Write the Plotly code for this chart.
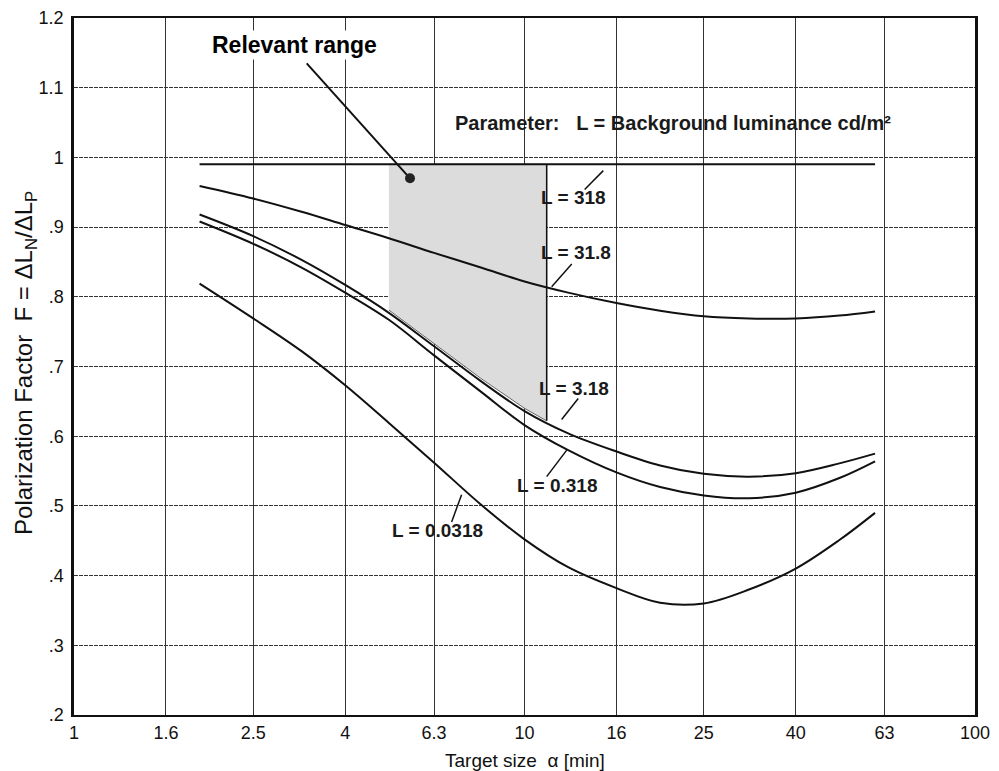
import numpy as np
import plotly.graph_objects as go

# ---------------- data ----------------
alpha = [1.9, 2.5, 3.2, 4, 5, 6.3, 8, 10, 12.5, 16, 20, 25, 31.5, 40, 50, 60]

F_L318 = [0.99] * len(alpha)
F_L31_8 = [0.959, 0.941, 0.922, 0.903, 0.884, 0.863, 0.842, 0.822, 0.806, 0.791,
           0.780, 0.772, 0.769, 0.769, 0.773, 0.779]
F_L3_18 = [0.918, 0.887, 0.853, 0.817, 0.777, 0.729, 0.679, 0.636, 0.604, 0.578,
           0.558, 0.546, 0.542, 0.547, 0.561, 0.575]
F_L0_318 = [0.908, 0.876, 0.842, 0.806, 0.767, 0.716, 0.664, 0.616, 0.580, 0.548,
            0.527, 0.515, 0.511, 0.519, 0.540, 0.564]
F_L0_0318 = [0.819, 0.769, 0.722, 0.673, 0.619, 0.562, 0.502, 0.452, 0.412, 0.382,
             0.361, 0.360, 0.380, 0.410, 0.451, 0.490]

# relevant range (shaded)
shade_x = [5.0, 6.3, 8, 10, 11.2]
shade_bottom = [0.781, 0.733, 0.683, 0.640, 0.622]
shade_top = 0.99

x_tickvals = [1, 1.6, 2.5, 4, 6.3, 10, 16, 25, 40, 63, 100]
x_ticktext = ["1", "1.6", "2.5", "4", "6.3", "10", "16", "25", "40", "63", "100"]
y_tickvals = [0.2, 0.3, 0.4, 0.5, 0.6, 0.7, 0.8, 0.9, 1.0, 1.1, 1.2]
y_ticktext = [".2", ".3", ".4", ".5", ".6", ".7", ".8", ".9", "1", "1.1", "1.2"]

# curve labels: text, label position (alpha, F), pointer start, pointer end
labels = [
    ("L = 318",    (12.82, 0.942), (13.6, 0.954), (14.96, 0.981)),
    ("L = 31.8",   (13.01, 0.863), (12.73, 0.847), (11.49, 0.8145)),
    ("L = 3.18",   (12.88, 0.668), (13.16, 0.654), (12.09, 0.624)),
    ("L = 0.318",  (11.81, 0.529), (12.41, 0.580), (11.20, 0.542)),
    ("L = 0.0318", (6.41, 0.464), (6.89, 0.477), (7.25, 0.516)),
]
relevant_text_pos = (3.094, 1.161)
relevant_ptr = [(3.285, 1.135), (5.57, 0.970)]
param_text_pos = (6.95, 1.049)

FONT = "Liberation Sans, Arial, sans-serif"

fig = go.Figure()

# shaded relevant range
px_ = shade_x + shade_x[::-1]
py_ = shade_bottom + [shade_top] * len(shade_x)
fig.add_trace(go.Scatter(x=px_, y=py_, mode="lines", fill="toself",
                         fillcolor="#dcdcdc", line=dict(color="#666", width=1),
                         hoverinfo="skip", showlegend=False))
fig.add_trace(go.Scatter(x=[shade_x[-1], shade_x[-1]], y=[shade_bottom[-1], shade_top],
                         mode="lines", line=dict(color="#111", width=1.5),
                         hoverinfo="skip", showlegend=False))

for name, ys in [("L = 318", F_L318), ("L = 31.8", F_L31_8), ("L = 3.18", F_L3_18),
                 ("L = 0.318", F_L0_318), ("L = 0.0318", F_L0_0318)]:
    fig.add_trace(go.Scatter(x=alpha, y=ys, mode="lines", name=name,
                             line=dict(color="#111", width=2, shape="spline", smoothing=1.0),
                             showlegend=False))

# label pointers
for text, pos, p0, p1 in labels:
    fig.add_trace(go.Scatter(x=[p0[0], p1[0]], y=[p0[1], p1[1]], mode="lines",
                             line=dict(color="#111", width=1.5),
                             hoverinfo="skip", showlegend=False))
    fig.add_annotation(x=np.log10(pos[0]), y=pos[1], xref="x", yref="y",
                       text="<b>" + text + "</b>",
                       showarrow=False, font=dict(family=FONT, size=19, color="#1a1a1a"))

# relevant range pointer + dot
fig.add_trace(go.Scatter(x=[p[0] for p in relevant_ptr], y=[p[1] for p in relevant_ptr],
                         mode="lines", line=dict(color="#111", width=2),
                         hoverinfo="skip", showlegend=False))
fig.add_trace(go.Scatter(x=[relevant_ptr[1][0]], y=[relevant_ptr[1][1]], mode="markers",
                         marker=dict(color="#222", size=10),
                         hoverinfo="skip", showlegend=False))

fig.add_annotation(x=np.log10(relevant_text_pos[0]), y=relevant_text_pos[1], xref="x", yref="y",
                   text="<b>Relevant range</b>", showarrow=False,
                   font=dict(family=FONT, size=23, color="#000"), bgcolor="white")
fig.add_annotation(x=np.log10(param_text_pos[0]), y=param_text_pos[1], xref="x", yref="y",
                   xanchor="left",
                   text="<b>Parameter:\u00a0\u00a0\u00a0L = Background luminance cd/m\u00b2</b>",
                   showarrow=False, font=dict(family=FONT, size=20, color="#1a1a1a"))

# axis titles
fig.add_annotation(x=0.5, y=-0.0646, xref="paper", yref="paper",
                   xanchor="center", yanchor="middle",
                   text="Target size\u00a0\u00a0\u03b1 [min]", showarrow=False,
                   font=dict(family=FONT, size=19, color="#111"))
fig.add_annotation(x=-0.0545, y=0.505, xref="paper", yref="paper", textangle=-90,
                   xanchor="center", yanchor="middle",
                   text="Polarization Factor\u00a0\u00a0F = \u0394L<sub>N</sub>/\u0394L<sub>P</sub>",
                   showarrow=False, font=dict(family=FONT, size=24, color="#111"))

# page body has an 8px margin, so the figure is sized to fit inside the window
fig.update_layout(
    width=991, height=763,
    margin=dict(l=66, r=24, t=10, b=56),
    plot_bgcolor="white", paper_bgcolor="white",
    showlegend=False,
    xaxis=dict(type="log", range=[0, 2], tickvals=x_tickvals, ticktext=x_ticktext,
               showgrid=True, gridcolor="#333", gridwidth=1, zeroline=False,
               showline=True, linecolor="#111", linewidth=2, mirror=True,
               ticks="", automargin=False,
               tickfont=dict(family=FONT, size=18, color="#111")),
    yaxis=dict(range=[0.2, 1.2], tickvals=y_tickvals, ticktext=y_ticktext,
               showgrid=True, gridcolor="#333", gridwidth=1, griddash="4px,1px",
               zeroline=False, showline=True, linecolor="#111", linewidth=2.5,
               mirror=True, ticks="", ticklabelstandoff=4, automargin=False,
               tickfont=dict(family=FONT, size=18, color="#111")),
)

fig.write_html("out.html")
